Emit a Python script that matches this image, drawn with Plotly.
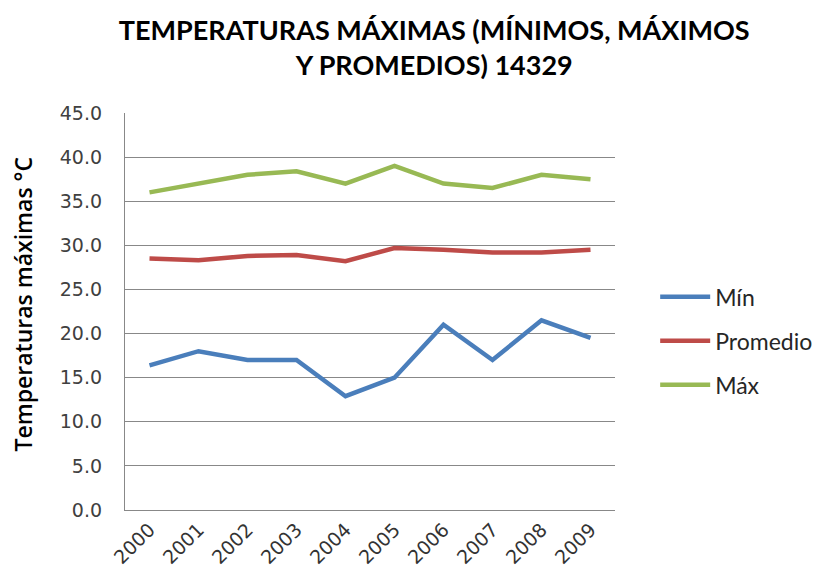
import plotly.graph_objects as go

years = ["2000", "2001", "2002", "2003", "2004", "2005", "2006", "2007", "2008", "2009"]
minimo = [16.4, 18.0, 17.0, 17.0, 12.9, 15.0, 21.0, 17.0, 21.5, 19.5]
promedio = [28.5, 28.3, 28.8, 28.9, 28.2, 29.7, 29.5, 29.2, 29.2, 29.5]
maximo = [36.0, 37.0, 38.0, 38.4, 37.0, 39.0, 37.0, 36.5, 38.0, 37.5]
y_ticks = [0, 5, 10, 15, 20, 25, 30, 35, 40, 45]

series = [("Mín", minimo, "#4A7EBB"), ("Promedio", promedio, "#BE4B48"), ("Máx", maximo, "#98B954")]

fig = go.Figure()
for name, vals, color in series:
    fig.add_trace(go.Scatter(x=years, y=vals, name=name, mode="lines", legendgroup=name,
                             line=dict(color=color, width=4.5)))

fig.update_layout(
    width=826, height=578,
    margin=dict(l=117, r=219, t=105, b=76),
    paper_bgcolor="white", plot_bgcolor="white",
    title=dict(text="<b>TEMPERATURAS MÁXIMAS (MÍNIMOS, MÁXIMOS<br>Y PROMEDIOS) 14329</b>",
               x=0.516, xanchor="center", y=0.945, yanchor="top",
               font=dict(family="Lato", size=27, color="black")),
    font=dict(family="DejaVu Sans", color="#404040"),
    legend=dict(x=1.082, y=0.426, xanchor="left", yanchor="middle",
                font=dict(family="Lato", size=23, color="#262626"),
                itemwidth=50, tracegroupgap=11, bgcolor="rgba(0,0,0,0)"),
    showlegend=True,
    annotations=[dict(text="Temperaturas máximas °C", textangle=-90,
                      xref="paper", yref="paper", x=-0.208, y=0.518,
                      xanchor="center", yanchor="middle", showarrow=False,
                      font=dict(family="Open Sans", size=23, weight=600, color="black"))],
)
fig.update_xaxes(type="category", range=[-0.5, 9.5], tickangle=-45,
                 showline=True, linecolor="#888888", linewidth=1.3,
                 showgrid=False, ticks="", automargin=False,
                 tickfont=dict(size=19, color="#333333"))
fig.update_yaxes(range=[0, 45], tickvals=y_ticks, tickformat=".1f",
                 showline=True, linecolor="#888888", linewidth=1.3,
                 showgrid=True, gridcolor="#888888", gridwidth=1.3,
                 zeroline=False, ticks="outside", ticklen=18, tickwidth=1, tickcolor="#ffffff",
                 automargin=False,
                 tickfont=dict(size=19, color="#404040"))

fig.write_html("out.html")
